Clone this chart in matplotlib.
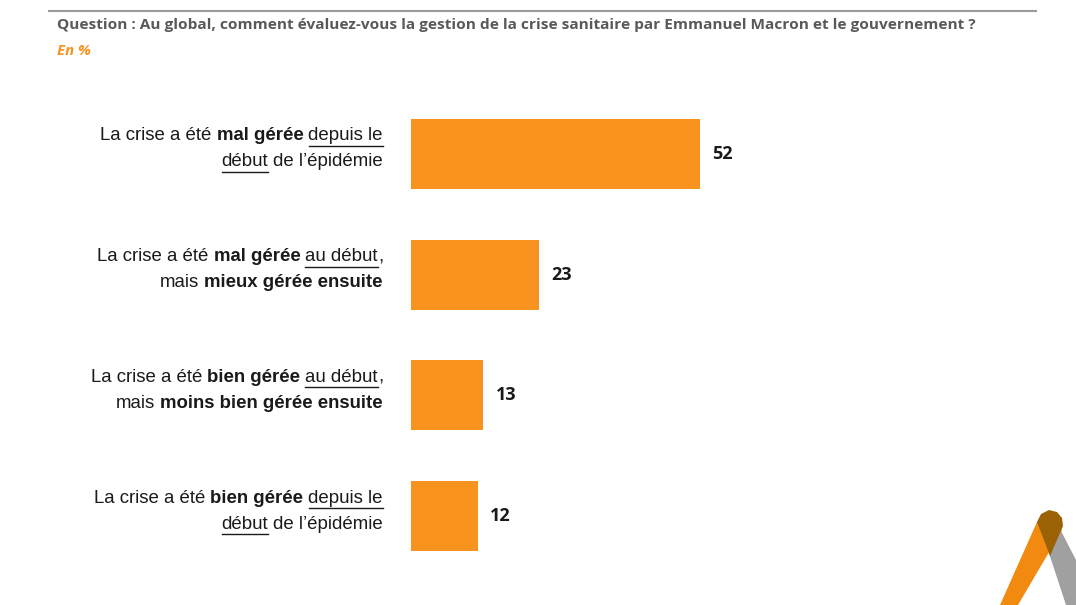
import matplotlib
matplotlib.use("Agg")
import matplotlib.pyplot as plt
from matplotlib.patches import Polygon
from matplotlib.lines import Line2D

W, H = 1076, 605
ORANGE = "#F7931E"
GREY = "#595959"
FONT = "Liberation Sans"

# data
categories = ["mal_depuis", "mal_debut", "bien_debut", "bien_depuis"]
values = [52, 23, 13, 12]
# each label: lines of (text, bold, underline) segments
labels = [
    [[("La crise a été", 0, 0), ("mal gérée", 1, 0), ("depuis le", 0, 1)],
     [("début", 0, 1), ("de l’épidémie", 0, 0)]],
    [[("La crise a été", 0, 0), ("mal gérée", 1, 0), ("au début", 0, 1), (",", 0, 0)],
     [("mais", 0, 0), ("mieux gérée ensuite", 1, 0)]],
    [[("La crise a été", 0, 0), ("bien gérée", 1, 0), ("au début", 0, 1), (",", 0, 0)],
     [("mais", 0, 0), ("moins bien gérée ensuite", 1, 0)]],
    [[("La crise a été", 0, 0), ("bien gérée", 1, 0), ("depuis le", 0, 1)],
     [("début", 0, 1), ("de l’épidémie", 0, 0)]],
]
title_text = ("Question : Au global, comment évaluez-vous la gestion de la crise "
              "sanitaire par Emmanuel Macron et le gouvernement ?")

fig = plt.figure(figsize=(W / 100, H / 100), dpi=100)
fig.patch.set_facecolor("white")

# overlay axes in pixel coordinates (y down)
bg = fig.add_axes([0, 0, 1, 1])
bg.set_xlim(0, W)
bg.set_ylim(H, 0)
bg.axis("off")

bg.add_line(Line2D([49, 1036], [11, 11], color="#9a9a9a", lw=1.5))
bg.text(57, 25, title_text, fontsize=11.1, fontweight="bold", color=GREY,
        family="Open Sans", va="center")
bg.text(57, 51, "En %", fontsize=10.8, fontweight="bold", style="italic",
        color=ORANGE, family="Open Sans", va="center")

# bar axes
x0, x1 = 411, 1000
scale = 289 / 52
ax = fig.add_axes([x0 / W, 1 - 576.4 / H, (x1 - x0) / W, (576.4 - 93.6) / H])
ax.set_xlim(0, (x1 - x0) / scale)
ax.set_ylim(len(values) - 0.5, -0.5)
ax.axis("off")
ypos = list(range(len(values)))
bars = ax.barh(ypos, values, height=0.58, color=ORANGE)
for y, v in zip(ypos, values):
    ax.annotate(str(v), (v, y), xytext=(9, 0), textcoords="offset points",
                fontsize=13, fontweight="bold", color="#1a1a1a",
                family="Open Sans", va="center", ha="left")

# rich labels, right aligned at x=383
fig.canvas.draw()
r = fig.canvas.get_renderer()
FS = 13.4


def width(txt, bold):
    t = bg.text(0, 0, txt, fontsize=FS, family=FONT,
                fontweight="bold" if bold else "normal")
    w = t.get_window_extent(r).width
    t.remove()
    return w


space = width("a a", 0) - width("aa", 0)
right = 383
for i, lines in enumerate(labels):
    yc = 154 + i * 120.7
    for j, segs in enumerate(lines):
        yl = yc - 18 + j * 26
        widths = [width(s, b) for s, b, u in segs]
        gaps = [0 if s == "," else space for s, b, u in segs[1:]]
        total = sum(widths) + sum(gaps)
        x = right - total
        for k, (s, b, u) in enumerate(segs):
            if k > 0:
                x += gaps[k - 1]
            bg.text(x, yl, s, fontsize=FS, family=FONT, color="#1a1a1a",
                    fontweight="bold" if b else "normal", va="center", ha="left")
            if u:
                bg.add_line(Line2D([x, x + widths[k]], [yl + 10, yl + 10],
                                   color="#1a1a1a", lw=1))
            x += widths[k]

# logo
bg.add_patch(Polygon([[1058, 525], [1042, 532], [1066, 605], [1076, 605], [1076, 560]],
                     closed=True, color="#a0a0a0", lw=0))
bg.add_patch(Polygon([[1037, 522], [1062, 530], [1018, 605], [1000, 605]],
                     closed=True, color="#f28a10", lw=0))
bg.add_patch(Polygon([[1037, 522], [1041, 514], [1049, 510], [1057, 512], [1062, 518],
                      [1063, 526], [1050, 556]],
                     closed=True, color="#9a6205", lw=0))

fig.savefig("out.png", dpi=100, facecolor="white")
